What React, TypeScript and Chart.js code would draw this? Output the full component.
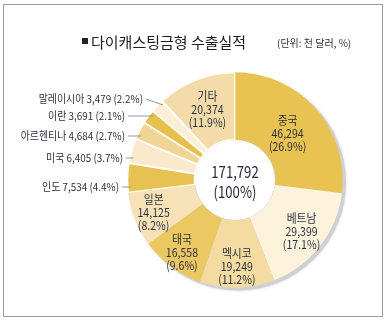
import React, { useEffect, useRef } from "react";
import { Chart, registerables } from "chart.js";

Chart.register(...registerables);

// ---- data ----
const categories = ["중국", "베트남", "멕시코", "태국", "일본", "인도", "미국", "아르헨티나", "이란", "말레이시아", "기타"];
const values = [46294, 29399, 19249, 16558, 14125, 7534, 6405, 4684, 3691, 3479, 20374];
const shareLabels = ["26.9", "17.1", "11.2", "9.6", "8.2", "4.4", "3.7", "2.7", "2.1", "2.2", "11.9"];
const totalValue = 171792;
const totalShare = "100";
const titleText = "다이캐스팅금형 수출실적";
const unitText = "(단위: 천 달러, %)";

// ---- styles / layout ----
const sliceColors = ["#e9c352", "#fdf3dc", "#f3dba2", "#ebc862", "#f6e2b6", "#e7c152", "#fae9cc", "#f1d596", "#e6bf4c", "#fcefd6", "#f4dcaa"];
const sliceBorders = [0, 0, 0, 0, 0, 1, 1, 1, 1, 1, 1];
const insideRadius: Record<number, number> = { 0: 0.65, 1: 0.78, 2: 0.8, 3: 0.83, 4: 0.81, 10: 0.7 };
const outsideLayout: Record<number, [number, number]> = { 5: [119, 187], 6: [123, 158], 7: [125, 136], 8: [125, 116], 9: [143, 99] };
const FONT = "'Noto Sans CJK KR', 'Noto Sans', sans-serif";
const TEXT = "#2d3140";

const fmt = (n: number) => n.toLocaleString("en-US");

function drawText(ctx: CanvasRenderingContext2D, text: string, x: number, y: number, align: CanvasTextAlign, size: number, sx: number, color = TEXT) {
  ctx.save();
  ctx.translate(x, y);
  ctx.scale(sx, 1);
  ctx.font = `${size}px ${FONT}`;
  ctx.fillStyle = color;
  ctx.textAlign = align;
  ctx.textBaseline = "middle";
  ctx.fillText(text, 0, 0);
  ctx.restore();
}

const piePlugin = {
  id: "pieDecor",
  beforeDatasetsDraw(chart: any) {
    const meta = chart.getDatasetMeta(0);
    const a = meta.data[0];
    if (!a) return;
    const { x, y, outerRadius } = a.getProps(["x", "y", "outerRadius"], true);
    const ctx = chart.ctx as CanvasRenderingContext2D;
    ctx.save();
    ctx.shadowColor = "rgba(0,0,0,0.18)";
    ctx.shadowBlur = 3;
    ctx.fillStyle = "#cfd0d3";
    ctx.beginPath();
    ctx.arc(x + 3, y + 2.5, outerRadius, 0, Math.PI * 2);
    ctx.fill();
    ctx.restore();
  },
  afterDatasetsDraw(chart: any) {
    const meta = chart.getDatasetMeta(0);
    const ctx = chart.ctx as CanvasRenderingContext2D;
    const a0 = meta.data[0];
    if (a0) {
      const { x, y, innerRadius } = a0.getProps(["x", "y", "innerRadius"], true);
      ctx.save();
      ctx.fillStyle = "#ffffff";
      ctx.beginPath();
      ctx.arc(x, y, innerRadius, 0, Math.PI * 2);
      ctx.fill();
      ctx.restore();
    }
    meta.data.forEach((arc: any, i: number) => {
      const { x, y, startAngle, endAngle, outerRadius } = arc.getProps(["x", "y", "startAngle", "endAngle", "outerRadius"], true);
      if (insideRadius[i] !== undefined) {
        const mid = (startAngle + endAngle) / 2;
        const rr = outerRadius * insideRadius[i];
        const px = x + Math.cos(mid) * rr;
        const py = y + Math.sin(mid) * rr;
        drawText(ctx, categories[i], px, py - 13, "center", 12, 0.9);
        drawText(ctx, fmt(values[i]), px, py, "center", 12, 0.88);
        drawText(ctx, `(${shareLabels[i]}%)`, px, py + 13, "center", 12, 0.88);
      } else if (outsideLayout[i]) {
        const [rx, ly] = outsideLayout[i];
        drawText(ctx, `${categories[i]} ${fmt(values[i])} (${shareLabels[i]}%)`, rx, ly, "right", 11, 0.9);
        const rr = outerRadius - 4;
        let s = (ly - y) / rr;
        s = Math.max(-1, Math.min(1, s));
        let th = Math.PI - Math.asin(s);
        const d = Math.min(0.3 * (endAngle - startAngle), 0.02);
        th = Math.max(startAngle + d, Math.min(endAngle - d, th));
        const ex = x + Math.cos(th) * rr;
        const ey = y + Math.sin(th) * rr;
        ctx.save();
        ctx.strokeStyle = "#8c8c8c";
        ctx.lineWidth = 0.9;
        ctx.beginPath();
        ctx.moveTo(rx + 3, ly);
        ctx.lineTo(ex, ey);
        ctx.stroke();
        ctx.restore();
      }
    });
    if (a0) {
      const { x, y } = a0.getProps(["x", "y"], true);
      drawText(ctx, fmt(totalValue), x, y - 8, "center", 16, 0.82, "#252a3a");
      drawText(ctx, `(${totalShare}%)`, x, y + 12, "center", 16, 0.82, "#252a3a");
    }
  },
};

export default function App() {
  const ref = useRef<HTMLCanvasElement | null>(null);
  useEffect(() => {
    if (!ref.current) return;
    const chart = new Chart(ref.current, {
      type: "doughnut",
      data: {
        labels: categories,
        datasets: [
          {
            data: values,
            backgroundColor: sliceColors,
            borderColor: "#ffffff",
            borderWidth: sliceBorders,
            borderAlign: "inner",
          } as any,
        ],
      },
      options: {
        responsive: false,
        animation: false,
        events: [],
        cutout: "37%",
        layout: { padding: { left: 127, top: 72, right: 44, bottom: 34 } },
        plugins: { legend: { display: false }, tooltip: { enabled: false } },
      },
      plugins: [piePlugin as any],
    });
    return () => chart.destroy();
  }, []);

  return (
    <div style={{ position: "absolute", left: 0, top: 0, width: 387, height: 322, background: "#fff", overflow: "hidden" }}>
      <canvas ref={ref} width={387} height={322} style={{ position: "absolute", left: 0, top: 0, width: 387, height: 322 }} />
      <div style={{ position: "absolute", left: 3, top: 4, width: 380, height: 313, boxSizing: "border-box", border: "1px solid #9c9c9c", pointerEvents: "none" }} />
      <div style={{ position: "absolute", left: 82, top: 38, width: 6, height: 6, background: "#222" }} />
      <div style={{ position: "absolute", left: 91, top: 32, fontFamily: FONT, fontSize: 15, lineHeight: "20px", color: "#1c1c1c", whiteSpace: "nowrap" }}>{titleText}</div>
      <div style={{ position: "absolute", left: 277, top: 36, fontFamily: FONT, fontSize: 10, lineHeight: "14px", color: "#333", whiteSpace: "nowrap" }}>{unitText}</div>
    </div>
  );
}
